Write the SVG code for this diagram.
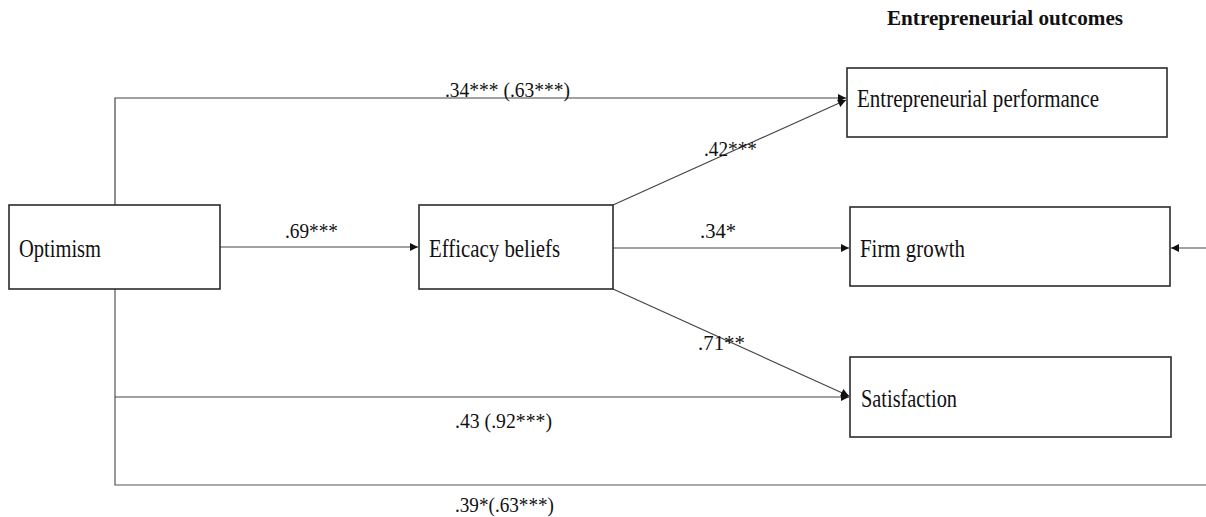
<svg xmlns="http://www.w3.org/2000/svg" width="1206" height="517" viewBox="0 0 1206 517">
  <style>
    .box { fill: #ffffff; stroke: #2b2b2b; stroke-width: 1.6; }
    .node-text { font-family: "Liberation Serif", "Times New Roman", serif; font-size: 25px; fill: #111111; }
    .coef { font-family: "Liberation Serif", "Times New Roman", serif; font-size: 22px; fill: #111111; }
    .title { font-family: "Liberation Serif", "Times New Roman", serif; font-size: 22px; font-weight: bold; fill: #111111; }
    .link { fill: none; stroke: #555555; stroke-width: 1.2; }
    .link-arrow { fill: none; stroke: #444444; stroke-width: 1.2; marker-end: url(#head); }
  </style>
  <defs>
    <marker id="head" markerWidth="10" markerHeight="10" refX="9" refY="5" orient="auto" markerUnits="userSpaceOnUse">
      <path d="M1,1 L9,5 L1,9 Z" fill="#111111"/>
    </marker>
  </defs>

  <rect width="1206" height="517" fill="#ffffff"/>

  <text class="title" x="887" y="25" textLength="236" lengthAdjust="spacingAndGlyphs">Entrepreneurial outcomes</text>

  <g id="connectors">
    <!-- Optimism -> Entrepreneurial performance (direct path over the top) -->
    <polyline class="link-arrow" points="115,205 115,98 846,98"/>
    <!-- Optimism -> Efficacy beliefs -->
    <line class="link-arrow" x1="220" y1="247" x2="418" y2="247"/>
    <!-- Efficacy beliefs -> outcomes -->
    <line class="link-arrow" x1="613" y1="205" x2="846" y2="100"/>
    <line class="link-arrow" x1="613" y1="248" x2="849" y2="248"/>
    <line class="link-arrow" x1="613" y1="289" x2="849" y2="396"/>
    <!-- Optimism -> Satisfaction and Firm growth (direct paths underneath) -->
    <polyline class="link" points="115,289 115,485 1206,485"/>
    <line class="link-arrow" x1="115" y1="397" x2="849" y2="397"/>
    <line class="link-arrow" x1="1206" y1="248" x2="1171" y2="248"/>

    <text class="coef" x="445" y="97" textLength="125" lengthAdjust="spacingAndGlyphs">.34*** (.63***)</text>
    <text class="coef" x="285" y="238" textLength="53" lengthAdjust="spacingAndGlyphs">.69***</text>
    <text class="coef" x="704" y="156" textLength="53" lengthAdjust="spacingAndGlyphs">.42***</text>
    <text class="coef" x="700" y="238" textLength="36" lengthAdjust="spacingAndGlyphs">.34*</text>
    <text class="coef" x="698" y="350" textLength="47" lengthAdjust="spacingAndGlyphs">.71**</text>
    <text class="coef" x="455" y="428" textLength="97" lengthAdjust="spacingAndGlyphs">.43 (.92***)</text>
    <text class="coef" x="455" y="512" textLength="99" lengthAdjust="spacingAndGlyphs">.39*(.63***)</text>
  </g>

  <g id="optimism">
    <rect class="box" x="9" y="205" width="211" height="84"/>
    <text class="node-text" x="19" y="257" textLength="82" lengthAdjust="spacingAndGlyphs">Optimism</text>
  </g>

  <g id="efficacy-beliefs">
    <rect class="box" x="419" y="205" width="194" height="84"/>
    <text class="node-text" x="429" y="257" textLength="131" lengthAdjust="spacingAndGlyphs">Efficacy beliefs</text>
  </g>

  <g id="entrepreneurial-performance">
    <rect class="box" x="847" y="68" width="320" height="69"/>
    <text class="node-text" x="857" y="107" textLength="242" lengthAdjust="spacingAndGlyphs">Entrepreneurial performance</text>
  </g>

  <g id="firm-growth">
    <rect class="box" x="850" y="207" width="320" height="79"/>
    <text class="node-text" x="860" y="257" textLength="105" lengthAdjust="spacingAndGlyphs">Firm growth</text>
  </g>

  <g id="satisfaction">
    <rect class="box" x="850" y="357" width="321" height="80"/>
    <text class="node-text" x="861" y="407" textLength="96" lengthAdjust="spacingAndGlyphs">Satisfaction</text>
  </g>
</svg>
